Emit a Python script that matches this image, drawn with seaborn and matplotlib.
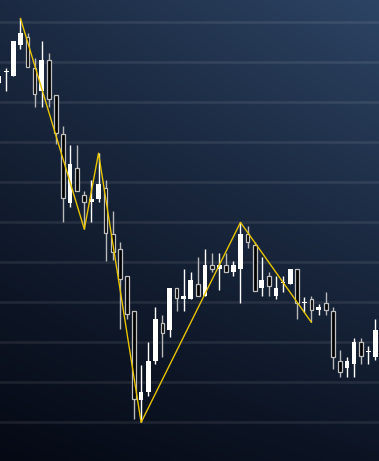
import numpy as np
import matplotlib
matplotlib.use("Agg")
import matplotlib.pyplot as plt
import seaborn as sns

# ---- data (price units) ----
opens  = [194.8, 197.4, 196.6, 204.3, 206.2, 198.4, 192.8, 200.4, 191.7, 182.0,
          164.8, 173.4, 166.7, 164.9, 165.8, 168.4, 156.9, 153.2, 146.4, 137.8,
          115.5, 117.5, 125.3, 134.7, 133.1, 143.4, 140.8, 140.8, 144.5, 141.6,
          149.3, 148.3, 149.2, 147.5, 148.3, 157.0, 154.3, 143.6, 146.5, 141.5,
          144.7, 144.6, 148.2, 139.8, 140.7, 137.9, 139.7, 137.7, 125.3, 123.4,
          124.4, 130.0, 127.4, 126.3]
highs  = [196.6, 198.5, 205.3, 210.9, 207.2, 201.1, 205.3, 202.3, 191.7, 184.0,
          179.2, 179.2, 167.8, 170.5, 177.2, 170.5, 162.8, 155.0, 146.4, 137.8,
          124.3, 130.0, 138.7, 136.8, 143.5, 143.4, 148.3, 147.5, 151.3, 153.3,
          152.3, 152.3, 152.3, 150.3, 159.9, 159.0, 155.1, 151.3, 147.5, 146.5,
          146.5, 148.3, 148.2, 141.3, 141.5, 139.5, 142.4, 138.7, 128.0, 126.3,
          130.9, 130.9, 129.1, 135.7]
lows   = [194.8, 192.8, 196.6, 203.3, 198.7, 188.8, 188.8, 188.8, 179.5, 160.1,
          163.8, 167.8, 158.2, 160.1, 164.9, 150.3, 150.5, 133.3, 135.8, 110.8,
          109.9, 116.6, 124.5, 126.3, 131.2, 137.8, 137.8, 140.8, 141.6, 141.6,
          147.4, 143.0, 147.5, 146.5, 139.8, 153.4, 142.7, 141.5, 141.5, 140.8,
          142.6, 144.6, 135.8, 137.5, 134.9, 136.8, 136.8, 123.3, 121.3, 121.3,
          121.3, 124.4, 124.4, 125.4]
closes = [196.6, 197.5, 205.3, 207.2, 198.7, 191.9, 200.5, 190.8, 182.2, 165.9,
          174.5, 167.8, 164.9, 165.8, 169.5, 157.2, 152.4, 145.7, 136.9, 115.7,
          117.5, 125.3, 135.8, 132.2, 143.5, 140.9, 141.5, 145.5, 141.6, 149.3,
          148.3, 149.3, 147.5, 149.3, 157.0, 155.1, 142.7, 145.5, 143.9, 143.5,
          144.8, 148.3, 139.8, 139.9, 137.9, 138.7, 137.9, 126.3, 122.4, 125.3,
          130.0, 126.4, 127.5, 132.9]

zigzag_idx   = [3, 12, 14, 20, 34, 44]
zigzag_price = [210.9, 158.2, 177.2, 109.9, 159.9, 134.9]

grid_levels = list(range(110, 211, 10))

# ---- figure ----
sns.set_theme(style="white")
fig = plt.figure(figsize=(3.79, 4.61), dpi=100)
ax = fig.add_axes([0, 0, 1, 1])
ax.set_axis_off()

# background gradient
n = 200
xx, yy = np.meshgrid(np.linspace(0, 1, n), np.linspace(0, 1, n))  # yy: 0 bottom -> 1 top
tl = np.array([27, 42, 66]) / 255.0
tr = np.array([45, 68, 100]) / 255.0
bl = np.array([5, 9, 20]) / 255.0
br = np.array([12, 20, 36]) / 255.0
img = (tl[None, None, :] * ((1 - xx) * yy)[..., None]
       + tr[None, None, :] * (xx * yy)[..., None]
       + bl[None, None, :] * ((1 - xx) * (1 - yy))[..., None]
       + br[None, None, :] * (xx * (1 - yy))[..., None])
ax.imshow(img, extent=[0, 1, 0, 1], transform=ax.transAxes, origin="lower",
          aspect="auto", zorder=0, interpolation="bilinear")

for g in grid_levels:
    ax.axhline(g, color="white", alpha=0.08, lw=2.0, zorder=1)

x = np.arange(len(opens))
for i in x:
    o, h, l, c = opens[i], highs[i], lows[i], closes[i]
    up = c >= o
    if up:
        ax.vlines(i, l, h, color="white", lw=1.0, zorder=2)
        hgt = max(c - o, 0.3)
        ax.bar(i, hgt, bottom=min(o, c), width=0.66, color="white",
               edgecolor="none", zorder=3)
    else:
        ax.vlines(i, l, h, color="#b8b8b8", lw=1.0, zorder=2)
        ax.bar(i, o - c, bottom=c, width=0.52, color="black",
               edgecolor="#c0c0c0", linewidth=0.9, zorder=3)

sns.lineplot(x=zigzag_idx, y=zigzag_price, ax=ax, color="#e8c400", lw=1.0,
             sort=False, estimator=None, zorder=5)

ax.set_xlim(0.12, 53.515)
ax.set_ylim(100.25, 215.5)

fig.savefig("out.png", dpi=100)
